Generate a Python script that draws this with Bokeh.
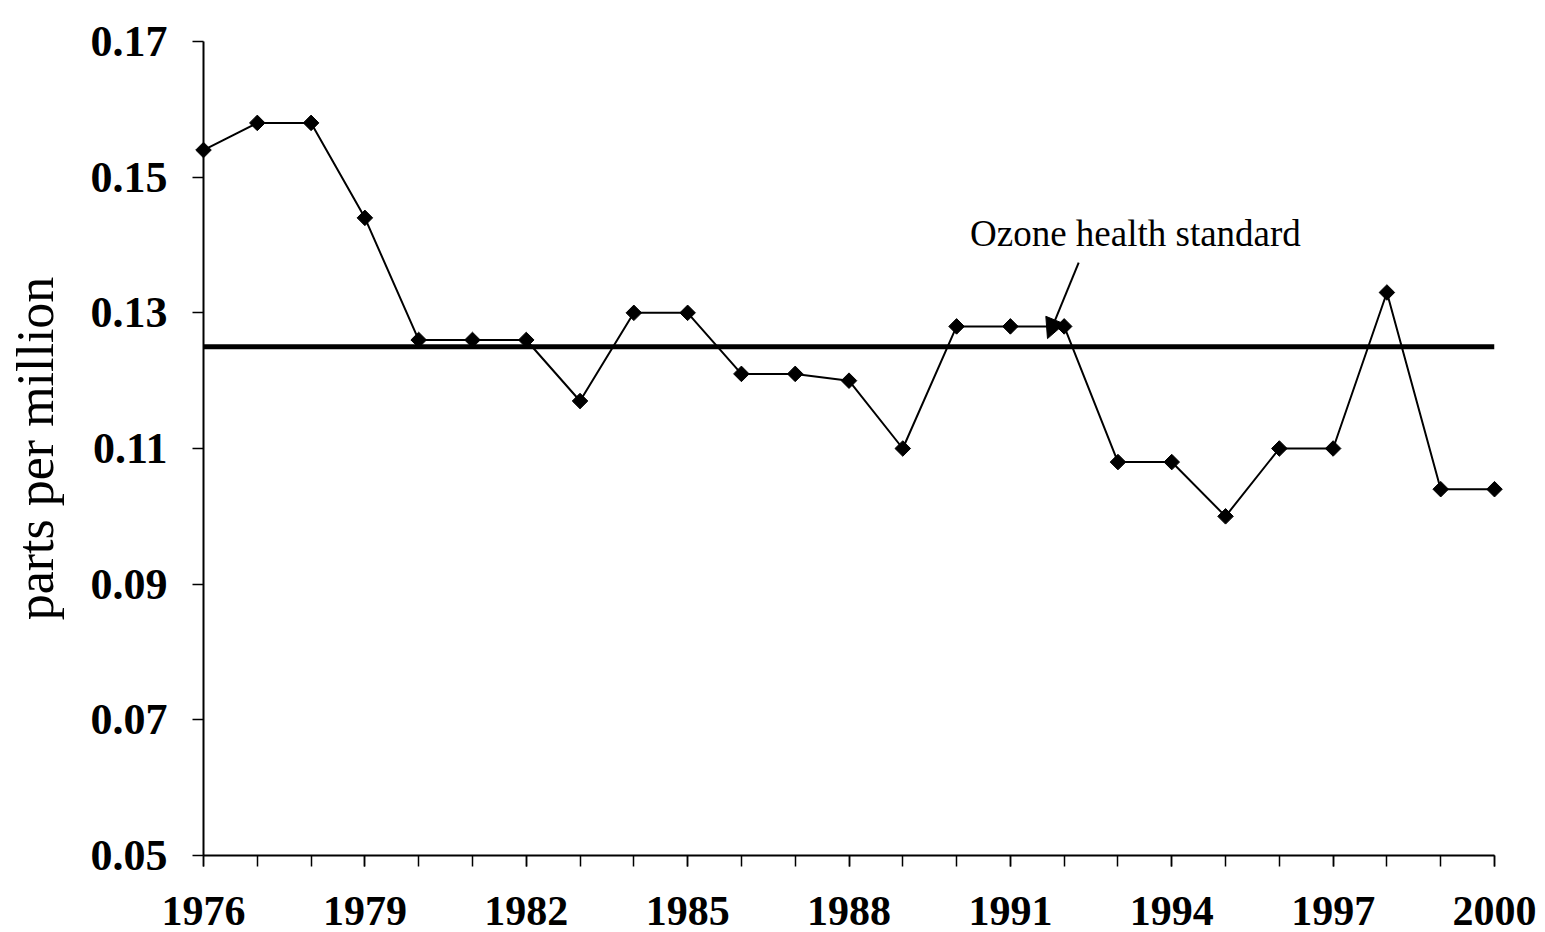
import math
from bokeh.plotting import figure
from bokeh.models import Range1d, FixedTicker, Arrow, NormalHead, Label, ColumnDataSource, PrintfTickFormatter
from bokeh.embed import file_html
from bokeh.resources import INLINE

# ---- data ----
years = list(range(1976, 2001))
ozone_ppm = [0.154, 0.158, 0.158, 0.144, 0.126, 0.126, 0.126, 0.117, 0.130, 0.130,
             0.121, 0.121, 0.120, 0.110, 0.128, 0.128, 0.128, 0.108, 0.108, 0.100,
             0.110, 0.110, 0.133, 0.104, 0.104]
standard_years = [1976, 2000]
standard_ppm = [0.125, 0.125]
x_tick_years = [1976, 1979, 1982, 1985, 1988, 1991, 1994, 1997, 2000]
y_tick_values = [0.05, 0.07, 0.09, 0.11, 0.13, 0.15, 0.17]
annotation_text = "Ozone health standard"
y_label = "parts per million"

SERIF = "Liberation Serif"

p = figure(width=1540, height=932, output_backend="svg", toolbar_location=None,
           x_range=Range1d(1976, 2000), y_range=Range1d(0.05, 0.17),
           min_border_left=203, min_border_right=46, min_border_top=41, min_border_bottom=77)
p.outline_line_color = None
p.xgrid.visible = False
p.ygrid.visible = False
p.background_fill_color = "white"
p.border_fill_color = "white"

# x axis
xa = p.xaxis[0]
xa.ticker = FixedTicker(ticks=x_tick_years, minor_ticks=years)
xa.axis_line_width = 2
xa.axis_line_color = "black"
xa.major_tick_out = 11
xa.major_tick_in = 0
xa.minor_tick_out = 11
xa.minor_tick_in = 0
xa.major_tick_line_width = 1.5
xa.minor_tick_line_width = 1.5
xa.major_tick_line_color = "black"
xa.minor_tick_line_color = "black"
xa.major_label_standoff = 30
xa.major_label_text_font = SERIF
xa.major_label_text_font_style = "bold"
xa.major_label_text_font_size = "42px"
xa.major_label_text_color = "black"

# y axis
ya = p.yaxis[0]
ya.ticker = FixedTicker(ticks=y_tick_values, minor_ticks=[])
ya.formatter = PrintfTickFormatter(format="%.2f")
ya.axis_line_width = 2
ya.axis_line_color = "black"
ya.major_tick_out = 11
ya.major_tick_in = 0
ya.minor_tick_out = 0
ya.minor_tick_in = 0
ya.major_tick_line_width = 1.5
ya.major_tick_line_color = "black"
ya.major_label_standoff = 25
ya.major_label_text_font = SERIF
ya.major_label_text_font_style = "bold"
ya.major_label_text_font_size = "44px"
ya.major_label_text_color = "black"
ya.axis_label = y_label
ya.axis_label_text_font = SERIF
ya.axis_label_text_font_style = "normal"
ya.axis_label_text_font_size = "52px"
ya.axis_label_text_color = "black"
ya.axis_label_standoff = 24

# standard line
p.line(standard_years, standard_ppm, line_color="black", line_width=5)

# data series (overlay level so the end markers are not clipped by the frame)
src = ColumnDataSource(dict(year=years, ppm=ozone_ppm))
p.line("year", "ppm", source=src, line_color="black", line_width=2)
p.scatter("year", "ppm", source=src, marker="square", angle=math.pi / 4,
          size=11, fill_color="black", line_color="black", level="overlay")

# annotation
arrow_start = (1992.27, 0.1374)
arrow_end = (1991.69, 0.1262)
p.add_layout(Arrow(end=NormalHead(size=20, fill_color="black", line_color="black"),
                   x_start=arrow_start[0], y_start=arrow_start[1],
                   x_end=arrow_end[0], y_end=arrow_end[1],
                   line_color="black", line_width=2))
text_pos = (1990.25, 0.1417)
p.add_layout(Label(x=text_pos[0], y=text_pos[1], text=annotation_text,
                   text_font=SERIF, text_font_size="37px", text_color="black",
                   text_baseline="alphabetic", text_align="left"))

open("out.html", "w").write(file_html(p, INLINE))
